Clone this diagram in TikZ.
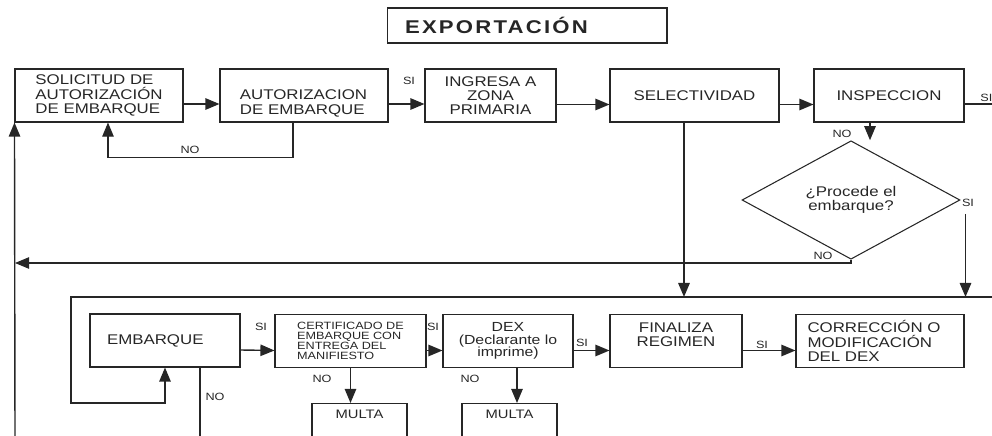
\documentclass[tikz,border=0pt]{standalone}
\usepackage{fontspec}
\setmainfont{Liberation Sans}[FakeStretch=1.2]
\usetikzlibrary{arrows.meta,shapes.geometric}
\tikzset{
  caja/.style={draw, line width=0.6pt, minimum height=1.06cm, inner sep=0pt,
    align=center, font=\fontsize{8}{8.2}\selectfont},
  multa/.style={draw, line width=0.6pt, anchor=north, minimum width=1.9cm,
    inner ysep=3.5pt, text height=5pt, text depth=1cm, font=\fontsize{7}{7}\selectfont},
  flecha/.style={-{Triangle[length=8pt,width=6.5pt]}, line width=0.8pt},
  linea/.style={line width=0.7pt},
  etiq/.style={inner sep=0pt, font=\fontsize{6}{6}\selectfont},
}

\begin{document}
\begin{tikzpicture}[x=0.02cm, y=-0.02cm, color=black!85]
\useasboundingbox (0,0) rectangle (992,436);
\clip (0,0) rectangle (992,436);

% titulo
\node[draw, line width=0.6pt, minimum height=0.7cm, inner xsep=0.36cm, text width=4.88cm, align=left,
  font=\fontsize{10.5}{11}\selectfont\bfseries\addfontfeature{LetterSpace=12}] (titulo) at (527,25.5) {EXPORTACIÓN};

% fila de arriba
\node[caja, minimum width=3.36cm, align=left] (sol) at (99,95.5) {SOLICITUD DE\\AUTORIZACIÓN\\DE EMBARQUE};
\node[caja, minimum width=3.36cm] (aut) at (304,95.5) {};
\node[align=left, inner sep=0pt, font=\fontsize{8}{8.2}\selectfont] (autT) at (303.5,103.5) {AUTORIZACION\\DE EMBARQUE};
\node[caja, minimum width=2.62cm] (ing) at (490.5,95.5) {INGRESA A\\ZONA\\PRIMARIA};
\node[caja, minimum width=3.38cm] (sel) at (694.5,95.5) {SELECTIVIDAD};
\node[caja, minimum width=3cm] (insp) at (889,95.5) {INSPECCION};
\node[draw, diamond, line width=0.6pt, minimum width=4.36cm, minimum height=1.74cm, inner sep=0pt,
  align=center, font=\fontsize{8}{8.2}\selectfont] (dia) at (851,200) {¿Procede el\\embarque?};

\coordinate (inspFin) at (1000,104);
\coordinate (izqAbajo) at (15,440);
\coordinate (izqNO) at (15,263);
\coordinate (retR) at (1000,297);
\coordinate (retL) at (71,297);
\coordinate (retB) at (71,403);

\draw[flecha] ([yshift=-0.17cm]sol.east) -- ([yshift=-0.17cm]aut.west);
\draw[flecha] ([yshift=-0.17cm]aut.east) -- ([yshift=-0.17cm]ing.west);
\draw[flecha] ([yshift=-0.18cm]ing.east) -- ([yshift=-0.18cm]sel.west);
\draw[flecha] ([yshift=-0.18cm]sel.east) -- ([yshift=-0.18cm]insp.west);
\draw[linea] (insp.east |- inspFin) -- (inspFin);
\draw[flecha, line width=0.6pt] ([xshift=-0.22cm]aut.south) |- ([xshift=0.18cm,yshift=-0.7cm]sol.south) -- ([xshift=0.18cm]sol.south);
\draw[flecha] (izqAbajo) -- (sol.south west);
\draw[flecha] ([xshift=-0.38cm]insp.south) -- ([xshift=-0.38cm]insp.south |- dia.north);
\draw[flecha, line width=0.6pt] (dia.south) |- (izqNO);
\draw[flecha, line width=1pt] ([xshift=-0.21cm]sel.south) -- ([xshift=-0.21cm]sel.south |- retR);
\draw[flecha, line width=1pt] ([xshift=0.1cm,yshift=-0.28cm]dia.east) -- ([xshift=0.1cm]dia.east |- retR);

\node[etiq] (siAut) at (409,81) {SI};
\node[etiq, anchor=west] (siInsp) at (980,98) {SI};
\node[etiq] (noAut) at (190,150) {NO};
\node[etiq] (noInsp) at (842,134) {NO};
\node[etiq] (siDia) at (968,203) {SI};
\node[etiq] (noDia) at (823,256) {NO};

% fila de abajo
\node[caja, minimum width=3cm, inner xsep=0.34cm, text width=2.32cm, align=left] (emb) at (165,340.5) {EMBARQUE};
\node[caja, minimum width=3.02cm, align=left, font=\fontsize{6}{5.8}\selectfont] (cert) at (350.5,341) {CERTIFICADO DE\\EMBARQUE CON\\ENTREGA DEL\\MANIFIESTO};
\node[caja, minimum width=2.6cm, font=\fontsize{7.5}{7}\selectfont] (dex) at (508,341) {DEX\\(Declarante lo\\imprime)};
\node[caja, minimum width=2.64cm] (fin) at (676,341) {};
\node[align=center, inner sep=0pt, font=\fontsize{8}{8.2}\selectfont] (finT) at (676,335) {FINALIZA\\REGIMEN};
\node[caja, minimum width=3.36cm, inner xsep=0.23cm, text width=2.9cm, align=left] (corr) at (880,341) {CORRECCIÓN O\\MODIFICACIÓN\\DEL DEX};
\node[multa] (multa1) at (359.5,403) {MULTA};
\node[multa] (multa2) at (509.5,403) {MULTA};

\coordinate (embNO) at (200,440);

\draw[flecha] (retR) -- (retL) -- (retB) -| (emb.south);
\draw[flecha] ([yshift=-0.19cm]emb.east) -- ([yshift=-0.19cm]cert.west);
\draw[flecha] ([yshift=-0.19cm]cert.east) -- ([yshift=-0.19cm]dex.west);
\draw[flecha] ([yshift=-0.19cm]dex.east) -- ([yshift=-0.19cm]fin.west);
\draw[flecha] ([yshift=-0.19cm]fin.east) -- ([yshift=-0.19cm]corr.west);
\draw[linea] ([xshift=0.7cm]emb.south) -- ([xshift=0.7cm]emb.south |- embNO);
\draw[flecha] (cert.south) -- (cert.south |- multa1.north);
\draw[flecha] ([xshift=0.18cm]dex.south) -- ([xshift=0.18cm]dex.south |- multa2.north);

\node[etiq] (siEmb) at (261,327) {SI};
\node[etiq] (siCert) at (433,327) {SI};
\node[etiq] (siDex) at (582,343) {SI};
\node[etiq] (siFin) at (762,345) {SI};
\node[etiq] (noEmb) at (215,397) {NO};
\node[etiq] (noCert) at (322,379) {NO};
\node[etiq] (noDex) at (470,379) {NO};
\end{tikzpicture}
\end{document}
